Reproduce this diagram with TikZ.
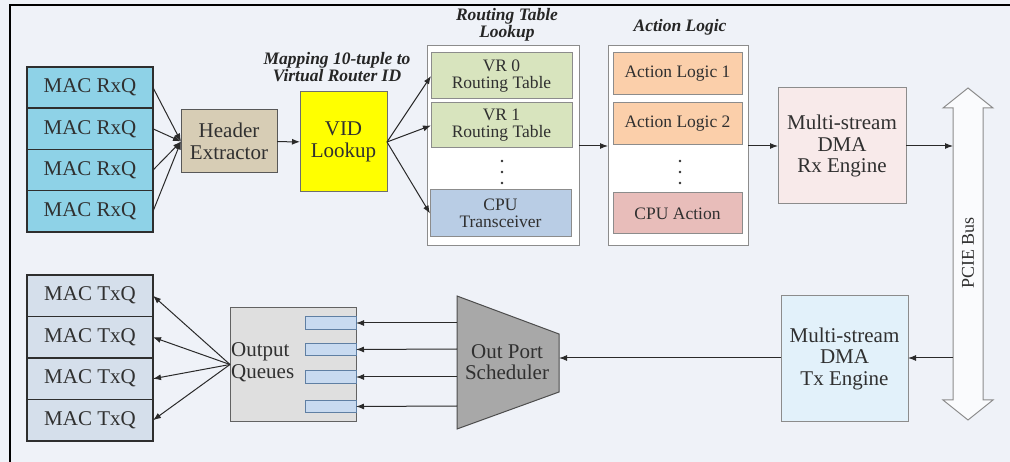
\documentclass[tikz,border=0pt]{standalone}
\usepackage{fontspec}
\setmainfont{Liberation Serif}
\usetikzlibrary{arrows.meta,positioning}
\definecolor{bgcol}{HTML}{EFF2F8}
\definecolor{txt}{HTML}{303030}
\definecolor{darkline}{HTML}{2E2E2E}
\definecolor{boxline}{HTML}{6E6E6E}
\definecolor{lightline}{HTML}{8C8C8C}
\definecolor{arrline}{HTML}{2A2A2A}
\definecolor{rxcol}{HTML}{8ED2E7}
\definecolor{txcol}{HTML}{D5DFEB}
\definecolor{hdrcol}{HTML}{D7CDB5}
\definecolor{vidcol}{HTML}{FFFF00}
\definecolor{vrcol}{HTML}{D8E4BE}
\definecolor{cpucol}{HTML}{B9CDE5}
\definecolor{alcol}{HTML}{FBCFAA}
\definecolor{cpuactcol}{HTML}{E8BDBA}
\definecolor{rxengcol}{HTML}{F8EAEA}
\definecolor{txengcol}{HTML}{E2F1FA}
\definecolor{schedcol}{HTML}{A8A8A8}
\definecolor{outqcol}{HTML}{DFDFDF}
\definecolor{slotcol}{HTML}{C8DAF0}
\definecolor{slotline}{HTML}{5F7FA3}
\definecolor{buscol}{HTML}{FAFBFD}

\begin{document}
\begin{tikzpicture}[
    x=1pt, y=-1pt,
    box/.style={draw=boxline, line width=1pt, inner sep=1pt, outer sep=0pt, align=center, text=txt, font=\fontsize{21}{21.5}\selectfont},
    inbox/.style={box, draw=lightline, font=\fontsize{17.5}{17}\selectfont},
    rxq/.style={box, draw=darkline, line width=1.5pt, fill=rxcol, minimum width=126pt, minimum height=41.25pt},
    txq/.style={rxq, fill=txcol, minimum height=41.5pt},
    group/.style={draw=lightline, line width=1pt, fill=white, minimum width=#1, minimum height=200pt, outer sep=0pt},
    slot/.style={draw=slotline, line width=1pt, fill=slotcol, minimum width=51pt, minimum height=12.5pt, inner sep=0pt, outer sep=0pt},
    arr/.style={-{Latex[length=8pt,width=6pt]}, line width=1pt, draw=arrline},
    ttl/.style={align=center, text=black!85, font=\fontsize{17.5}{16.5}\bfseries\itshape\selectfont}
  ]
    \useasboundingbox (0,0) rectangle (1010,462);
    \fill[bgcol] (0,0) rectangle (1010,462);
    \draw[line width=1.5pt] (10,462) -- (10,5) -- (1010,5);

    \node[rxq] (rx1) at (90,87.6) {MAC RxQ};
    \node[rxq, below=0pt of rx1] (rx2) {MAC RxQ};
    \node[rxq, below=0pt of rx2] (rx3) {MAC RxQ};
    \node[rxq, below=0pt of rx3] (rx4) {MAC RxQ};

    \node[box, draw=darkline!80, fill=hdrcol, minimum width=96pt, minimum height=63pt] (hdr) at (229,141.5) {Header\\Extractor};
    \node[box, fill=vidcol, minimum width=87pt, minimum height=100pt] (vid) at (343.5,142) {VID\\Lookup};
    \node[ttl] (maplbl) at (337,67) {Mapping 10-tuple to\\Virtual Router ID};

    \node[group=152pt] (rtbox) at (503,146) {};
    \node[ttl] (rtlbl) at (507,25) {Routing Table\\Lookup};
    \node[inbox, fill=vrcol, minimum width=141pt, minimum height=46pt] (vr0) at (501.5,76) {VR 0\\Routing Table};
    \node[inbox, fill=vrcol, minimum width=141pt, minimum height=45pt] (vr1) at (501.5,125.5) {VR 1\\Routing Table};
    \node[inbox, fill=cpucol, minimum width=141pt, minimum height=47pt] (cputr) at (500.5,213.5) {CPU\\Transceiver};
    \foreach \y in {161,172,183} \fill[txt] (502,\y) circle (1.3pt);

    \node[group=140pt] (actbox) at (678,146) {};
    \node[ttl] (actlbl) at (680,27) {Action Logic};
    \node[inbox, fill=alcol, minimum width=129pt, minimum height=42pt] (al1) at (677.5,74) {Action Logic 1};
    \node[inbox, fill=alcol, minimum width=129pt, minimum height=42pt] (al2) at (677.5,124) {Action Logic 2};
    \node[inbox, fill=cpuactcol, minimum width=129pt, minimum height=41pt] (cpuact) at (677.5,213.5) {CPU Action};
    \foreach \y in {161,172,183} \fill[txt] (680,\y) circle (1.3pt);

    \node[box, draw=lightline, fill=rxengcol, minimum width=128pt, minimum height=116pt] (rxeng) at (842,146) {Multi-stream\\DMA\\Rx Engine};

    \draw[draw=lightline, line width=1pt, fill=buscol] (953,108) -- (943,108) -- (968,88) -- (993,108) -- (983,108)
      -- (983,400) -- (993,400) -- (968,420) -- (943,400) -- (953,400) -- cycle;
    \node[rotate=90, text=txt, font=\fontsize{18}{18}\selectfont] (buslbl) at (968,253) {PCIE Bus};
    \coordinate (busrx) at (953,146);
    \coordinate (bustx) at (953,358);

    \node[box, draw=lightline, fill=txengcol, minimum width=127pt, minimum height=125pt] (txeng) at (844.5,358.5) {Multi-stream\\DMA\\Tx Engine};

    \draw[draw=darkline!85, line width=1pt, fill=schedcol] (457,296) -- (559,334) -- (559,392) -- (457,429) -- cycle;
    \node[text=txt, align=center, font=\fontsize{21}{21.5}\selectfont] (sched) at (507,362) {Out Port\\Scheduler};
    \coordinate (schin) at (559,358);
    \coordinate (s1) at (457,323);
    \coordinate (s2) at (457,349);
    \coordinate (s3) at (457,377);
    \coordinate (s4) at (457,406);

    \node[box, draw=darkline!75, fill=outqcol, minimum width=126pt, minimum height=113pt] (outq) at (293,364.5) {};
    \node[anchor=west, inner sep=0pt, align=left, text=txt, font=\fontsize{21}{22}\selectfont] (outqlbl) at (231,362) {Output\\Queues};
    \node[slot] (q1) at (330.5,323) {};
    \node[slot] (q2) at (330.5,349.5) {};
    \node[slot] (q3) at (330.5,377) {};
    \node[slot] (q4) at (330.5,406.5) {};

    \node[txq] (tx1) at (90,295.75) {MAC TxQ};
    \node[txq, below=0pt of tx1] (tx2) {MAC TxQ};
    \node[txq, below=0pt of tx2] (tx3) {MAC TxQ};
    \node[txq, below=0pt of tx3] (tx4) {MAC TxQ};

    \draw[arr] (rx1.east) -- (hdr.west);
    \draw[arr] (rx2.east) -- (hdr.west);
    \draw[arr] (rx3.east) -- (hdr.west);
    \draw[arr] (rx4.east) -- (hdr.west);
    \draw[arr] (hdr) -- (vid);
    \draw[arr] (vid.east) -- (vr0.west);
    \draw[arr] (vid.east) -- (vr1.west);
    \draw[arr] (vid.east) -- (cputr.west);
    \draw[arr] (rtbox) -- (actbox);
    \draw[arr] (actbox) -- (rxeng);
    \draw[arr] (rxeng.east) -- (busrx);
    \draw[arr] (bustx) -- (txeng.east |- bustx);
    \draw[arr] (txeng.west |- schin) -- (schin);
    \draw[arr] (s1) -- (q1.east);
    \draw[arr] (s2) -- (q2.east);
    \draw[arr] (s3) -- (q3.east);
    \draw[arr] (s4) -- (q4.east);
    \draw[arr] (outq.west) -- (tx1.east);
    \draw[arr] (outq.west) -- (tx2.east);
    \draw[arr] (outq.west) -- (tx3.east);
    \draw[arr] (outq.west) -- (tx4.east);
  \end{tikzpicture}
\end{document}
